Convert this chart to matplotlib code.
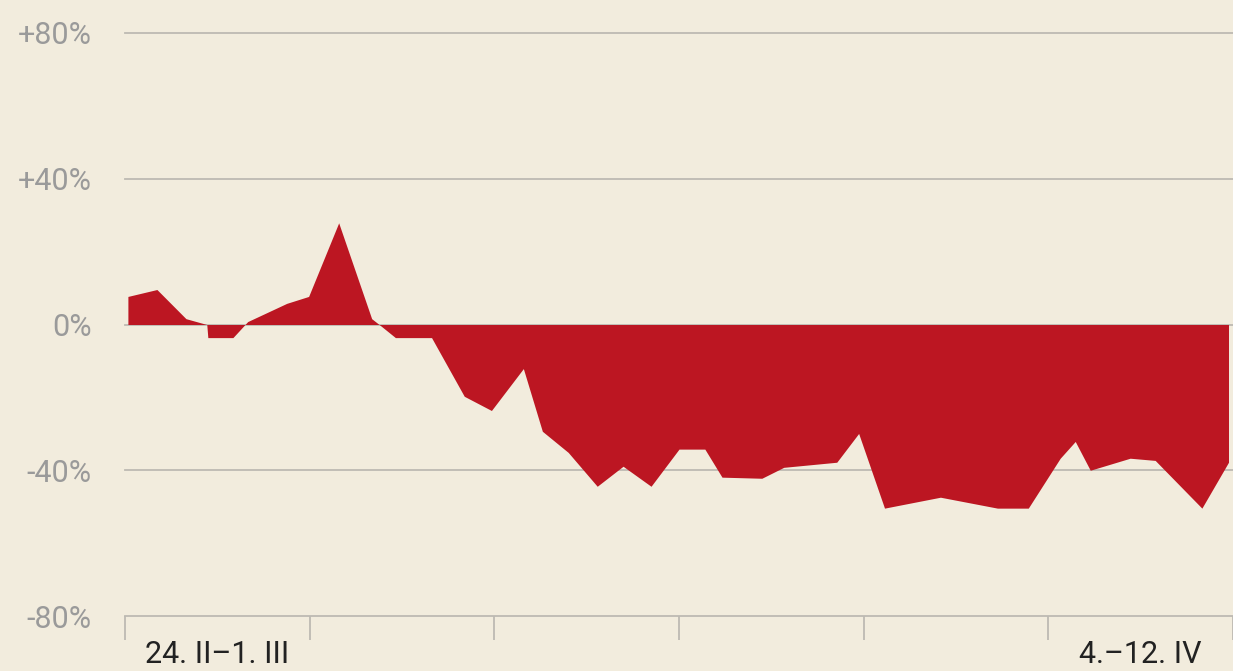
import numpy as np
import matplotlib
matplotlib.use('Agg')
from matplotlib import pyplot as plt

# days since 24 Feb, change in percent
days = [0.11, 1.21, 2.31, 3.10, 3.14, 4.09, 4.65, 6.13, 6.96, 8.10, 9.35, 9.72,
        10.25, 11.62, 12.86, 13.89, 15.10, 15.82, 16.80, 17.90, 18.88, 19.94,
        21.00, 21.98, 22.63, 24.14, 24.97, 26.98, 27.81, 28.79, 30.91, 33.07,
        34.24, 35.45, 36.02, 36.59, 38.10, 39.05, 40.82, 41.83]
change = [7.7, 9.6, 1.6, 0.0, -3.6, -3.6, 0.8, 5.8, 7.7, 27.9, 1.6, -0.5,
          -3.6, -3.6, -19.7, -23.6, -12.1, -29.3, -35.1, -44.4, -38.9, -44.4,
          -34.2, -34.2, -41.9, -42.2, -39.2, -37.8, -29.9, -50.4, -47.4, -50.4,
          -50.4, -36.7, -32.1, -40.0, -36.7, -37.3, -50.4, -37.8]

y_ticks = [-80, -40, 0, 40, 80]
y_labels = ['-80%', '-40%', '0%', '+40%', '+80%']
week_ticks = [0, 7, 14, 21, 28, 35, 42]
period_pos = [3.5, 38.5]
period_labels = ['24. II\u20131. III', '4.\u201312. IV']

bg = '#f2ecdd'
red = '#bc1622'
grid = '#bdbab2'
fonts = ['Roboto', 'DejaVu Sans']

fig = plt.figure(figsize=(12.33, 6.71), dpi=100, facecolor=bg)
ax = fig.add_axes([125 / 1233, 55 / 671, 1108 / 1233, 583 / 671])
ax.set_facecolor(bg)

for v in y_ticks[1:]:
    ax.axhline(v, color=grid, lw=1.3, zorder=1, clip_on=False)

ax.fill_between(days, change, 0, color=red, lw=0, zorder=2)

ax.set_xlim(0, 42)
ax.set_ylim(-80, 80)
for s in ['top', 'right', 'left']:
    ax.spines[s].set_visible(False)
ax.spines['bottom'].set_color(grid)
ax.spines['bottom'].set_linewidth(1.3)

ax.set_yticks(y_ticks)
ax.set_yticklabels(y_labels, family=fonts, fontsize=22, color='#9a9a9a')
ax.tick_params(axis='y', length=0, pad=24)

ax.set_xticks(week_ticks)
ax.set_xticklabels([])
ax.tick_params(axis='x', which='major', length=17, width=1.3, color=grid)
ax.set_xticks(period_pos, minor=True)
ax.set_xticklabels(period_labels, minor=True, family=fonts, fontsize=22,
                   color='#222222')
ax.tick_params(axis='x', which='minor', length=0, pad=17)

fig.savefig('out.png', dpi=100, facecolor=bg)
